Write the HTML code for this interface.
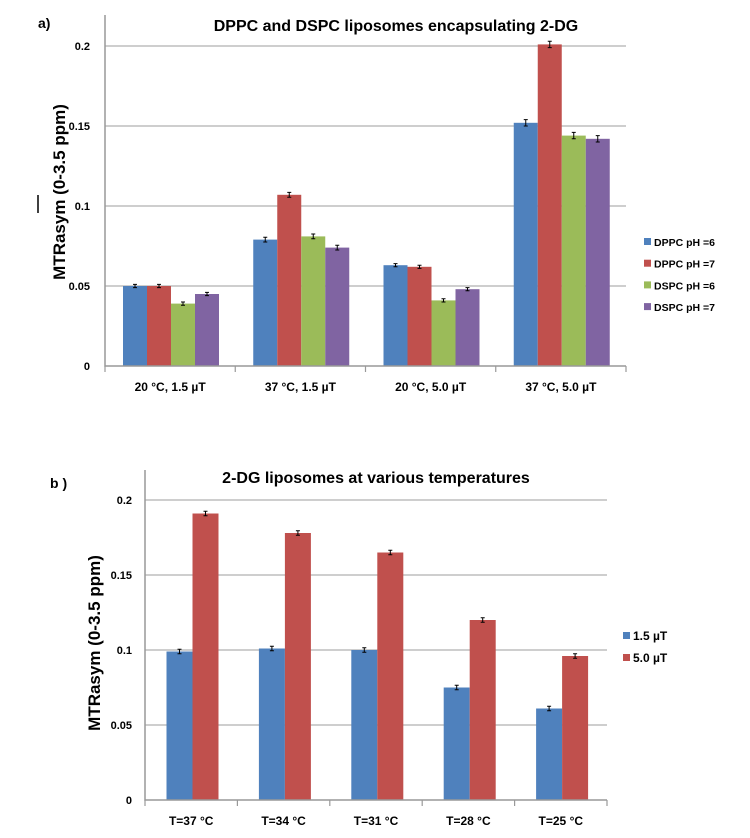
<!DOCTYPE html>
<html><head><meta charset="utf-8"><style>
body{margin:0;background:#fff;}
svg{display:block;font-family:"Liberation Sans",sans-serif;}
</style></head><body>
<svg id="s" width="750" height="838"></svg>
<script>
const catsA=["20 °C, 1.5 µT","37 °C, 1.5 µT","20 °C, 5.0 µT","37 °C, 5.0 µT"];
const seriesNamesA=["DPPC pH =6","DPPC pH =7","DSPC pH =6","DSPC pH =7"];
const dppc6=[0.050,0.079,0.063,0.152];
const dppc7=[0.050,0.107,0.062,0.201];
const dspc6=[0.039,0.081,0.041,0.144];
const dspc7=[0.045,0.074,0.048,0.142];
const errA=[0.001,0.0015,0.001,0.002];
const ticksA=[0,0.05,0.1,0.15,0.2];
const ticksALabels=["0","0.05","0.1","0.15","0.2"];
const catsB=["T=37 °C","T=34 °C","T=31 °C","T=28 °C","T=25 °C"];
const seriesNamesB=["1.5 µT","5.0 µT"];
const low=[0.099,0.101,0.100,0.075,0.061];
const high=[0.191,0.178,0.165,0.120,0.096];
const errB=[0.0015,0.0015,0.0015,0.0015,0.0015];
const ticksB=[0,0.05,0.1,0.15,0.2];
const ticksBLabels=["0","0.05","0.1","0.15","0.2"];
const COLORS=["#4F81BD","#C0504D","#9BBB59","#8064A2"];
const NS="http://www.w3.org/2000/svg";
const svg=document.getElementById('s');
function el(tag,attrs,parent,text){const e=document.createElementNS(NS,tag);for(const k in attrs)e.setAttribute(k,attrs[k]);if(text!==undefined)e.textContent=text;(parent||svg).appendChild(e);return e;}

function chart(cfg){
  const g=el('g',{});
  
  
  const y=v=>cfg.y0-(v/0.2)*(cfg.y0-cfg.y1);
  const cw=(cfg.x1-cfg.x0)/cfg.cats.length;
  cfg.ticks.forEach((t,i)=>{
    if(t>0){const l=el('line',{x1:cfg.x0,x2:cfg.x1,y1:y(t),y2:y(t),stroke:'#BEBEBE','stroke-width':1.5},g);
      }
    const tx=el('text',{x:cfg.x0-cfg.tgap,y:y(t)+4,'text-anchor':'end','font-size':11,'font-weight':'bold'},g,cfg.tickLabels[i]);
    
  });
  cfg.series.forEach((vals,si)=>{
    vals.forEach((v,ci)=>{
      const bx=cfg.x0+ci*cw+cfg.off+si*cfg.bw;
      const r=el('rect',{x:bx,y:y(v),width:cfg.bw,height:cfg.y0-y(v),fill:COLORS[si]},g);
      
      const cx=bx+cfg.bw/2,e=cfg.err[ci];
      const p=el('path',{d:`M${cx},${y(v+e)}V${y(v-e)}M${cx-2},${y(v+e)}h4M${cx-2},${y(v-e)}h4`,stroke:'#000','stroke-width':1,fill:'none'},g);
      
    });
  });
  const ax=el('path',{d:`M${cfg.x0},${cfg.atop}V${cfg.y0}H${cfg.x1}`,stroke:'#999','stroke-width':1.5,fill:'none'},g);
  
  for(let i=0;i<=cfg.cats.length;i++){
    const tk=el('line',{x1:cfg.x0+i*cw,x2:cfg.x0+i*cw,y1:cfg.y0,y2:cfg.y0+6,stroke:'#999','stroke-width':1.2},g);
    
  }
  cfg.cats.forEach((c,i)=>{
    const t=el('text',{x:cfg.x0+(i+0.5)*cw,y:cfg.y0+25,'text-anchor':'middle','font-size':12,'font-weight':'bold'},g,c);
    
  });
  const ttl=el('text',{x:cfg.tx,y:cfg.ty,'text-anchor':'middle','font-size':16,'font-weight':'bold'},g,cfg.title);
  
  const pl=el('text',{x:cfg.px,y:cfg.py,'font-size':14,'font-weight':'bold'},g,cfg.panel);
  
  const yl=el('text',{x:0,y:0,transform:`translate(${cfg.yx},${cfg.yy}) rotate(-90)`,'text-anchor':'middle','font-size':17,'font-weight':'bold'},g,'MTRasym (0-3.5 ppm)');
  
  cfg.names.forEach((n,i)=>{
    const ly=cfg.ly+i*cfg.lstep;
    const sq=el('rect',{x:cfg.lx,y:ly-4,width:7,height:7,fill:COLORS[i]},g);
    
    const lt=el('text',{x:cfg.lx+10,y:ly+4,'font-size':cfg.lfs,'font-weight':'bold'},g,n);
    
  });
}
chart({name:'chart-a',x0:105,x1:626,y0:366,y1:46,atop:15,tgap:15,cats:catsA,series:[dppc6,dppc7,dspc6,dspc7],err:errA,off:18,bw:24,
  ticks:ticksA,tickLabels:ticksALabels,title:'DPPC and DSPC liposomes encapsulating 2-DG',tx:396,ty:31,panel:'a)',px:38,py:28,
  yx:65,yy:192,names:seriesNamesA,lx:644,ly:242,lstep:21.7,lfs:10.5});
chart({name:'chart-b',x0:145,x1:607,y0:800,y1:500,atop:470,tgap:13,cats:catsB,series:[low,high],err:errB,off:21.5,bw:26,
  ticks:ticksB,tickLabels:ticksBLabels,title:'2-DG liposomes  at various temperatures',tx:376,ty:483,panel:'b )',px:50,py:488,
  yx:100,yy:643,names:seriesNamesB,lx:623,ly:636,lstep:22,lfs:12});
const dash=el('line',{x1:38,x2:38,y1:195,y2:213,stroke:'#000','stroke-width':1.5});


</script>
</body></html>
